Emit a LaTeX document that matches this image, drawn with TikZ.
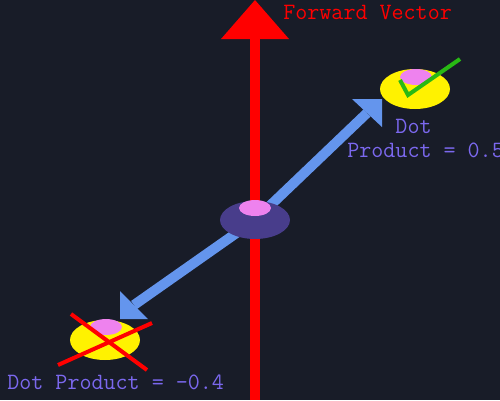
\documentclass[tikz,border=0pt]{standalone}
\usetikzlibrary{shapes.geometric}

\definecolor{bgcol}{RGB}{24,28,40}
\definecolor{playercol}{RGB}{72,61,139}
\definecolor{headcol}{RGB}{238,130,238}
\definecolor{aimcol}{RGB}{100,149,237}
\definecolor{labelcol}{RGB}{123,104,238}
\definecolor{tickcol}{RGB}{40,185,20}

\tikzset{
    blob/.style={ellipse,inner sep=0pt,minimum width=1.4cm,minimum height=0.8cm},
    head/.style={ellipse,inner sep=0pt,fill=headcol,minimum width=0.64cm,minimum height=0.32cm},
    aim/.style={draw=aimcol,line width=0.2cm},
    txt/.style={anchor=base west,inner sep=0pt,font=\fontsize{13.3}{13.6}\selectfont\ttfamily}
}

\begin{document}
\begin{tikzpicture}[x=0.02cm,y=-0.02cm]
    \useasboundingbox (0,0) rectangle (500,400);
    \fill[bgcol] (0,0) rectangle (500,400);

    % forward vector
    \coordinate (fwdbase) at (255,400);
    \coordinate (fwdneck) at (255,39);
    \coordinate (fwdtip) at (255,0);
    \draw[red,line width=0.2cm] (fwdbase) -- (fwdneck);
    \fill[red] (fwdtip) -- (289,39) -- (221,39) -- cycle;
    \node[txt,text=red] (fwdlabel) at (283,19) {Forward Vector};

    % aim arrows
    \coordinate (endA) at (367,113);
    \coordinate (tipA) at (382,99);
    \coordinate (endB) at (134,305);
    \coordinate (tipB) at (120,319);
    \node[blob] (player) at (255,220) {};
    \draw[aim] (player.center) -- (endA);
    \draw[aim] (player.center) -- (endB);
    \fill[aimcol] (tipA) -- ++(-30,0) -- ++(30,28) -- cycle;
    \fill[aimcol] (tipB) -- ++(0,-28) -- ++(28,28) -- cycle;

    % player
    \node[blob,fill=playercol,minimum height=0.76cm] (player) at (255,220) {};
    \node[head] (playerhead) at (255,208) {};

    % targets
    \node[blob,fill=yellow] (front) at (415,89) {};
    \node[head] (fronthead) at (416,77) {};
    \node[blob,fill=yellow] (back) at (105,340) {};
    \node[head] (backhead) at (106,327) {};

    \draw[tickcol,line width=0.08cm] (400,80) -- (408,95) -- (460,59);
    \draw[red,line width=0.08cm] (71,314) -- (147,370) (58,365) -- (152,323);

    \node[txt,text=labelcol,align=left] (frontlabel) at (347,157) {\phantom{Prod}Dot\\Product = 0.5};
    \node[txt,text=labelcol] (backlabel) at (7,389) {Dot Product = -0.4};
\end{tikzpicture}
\end{document}
